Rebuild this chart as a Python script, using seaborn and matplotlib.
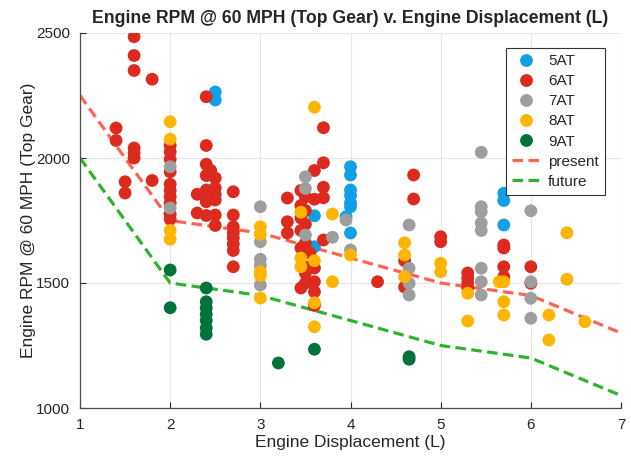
import numpy as np
import pandas as pd
import matplotlib
matplotlib.use('Agg')
import matplotlib.pyplot as plt
import seaborn as sns

# Engine displacement (L) and RPM at 60 mph, per transmission type
disp_5at = [2.5, 2.5, 3.6, 3.6, 4.0, 4.0, 4.0, 4.0, 4.0, 4.0, 3.95, 4.0, 5.7, 5.7, 5.7]
rpm_5at = [2264, 2232, 1769, 1645, 1965, 1932, 1872, 1850, 1820, 1805, 1765, 1700, 1859, 1830, 1732]

disp_6at = [1.4, 1.4, 1.5, 1.5, 1.6, 1.6, 1.6, 1.6, 1.6, 1.6, 1.8, 1.8,
            2.0, 2.0, 2.0, 2.0, 2.0, 2.0, 2.0, 2.0, 2.0, 2.0,
            2.4, 2.4, 2.4, 2.4, 2.5, 2.3, 2.4, 2.5, 2.4, 2.5, 2.3, 2.4, 2.5, 2.5, 2.45, 2.5,
            2.7, 2.7, 2.7, 2.7, 2.7, 2.7, 2.7, 2.7,
            3.3, 3.3, 3.3,
            3.7, 3.7, 3.6, 3.7, 3.7, 3.6, 3.7, 3.5, 3.5, 3.6, 3.6, 3.6, 3.6, 4.3,
            3.45, 3.5, 3.45, 3.5, 3.45, 3.5, 3.45, 3.5, 3.45, 3.55, 3.5, 3.45,
            4.7, 4.7, 4.6, 4.6, 5.0, 5.0, 5.3, 5.3, 5.3, 5.3,
            5.7, 5.7, 5.7, 5.7, 6.0, 6.0]
rpm_6at = [2120, 2070, 1905, 1860, 2485, 2410, 2350, 2040, 2020, 2000, 2315, 1910,
           2050, 2025, 1995, 1945, 1895, 1870, 1845, 1820, 1775, 1755,
           2245, 2050, 1975, 1930, 1920, 1855, 1872, 1880, 1825, 1832, 1780, 1770, 1772, 1730, 1950, 1855,
           1865, 1772, 1725, 1700, 1680, 1655, 1630, 1565,
           1840, 1745, 1700,
           2121, 1981, 1950, 1883, 1841, 1835, 1672, 1539, 1500, 1505, 1465, 1410, 1560, 1505,
           1870, 1845, 1810, 1790, 1760, 1735, 1710, 1660, 1640, 1620, 1565, 1480,
           1932, 1836, 1589, 1484, 1685, 1665, 1540, 1520, 1500, 1482,
           1652, 1640, 1565, 1525, 1565, 1499]

disp_7at = [2.0, 2.0, 3.0, 3.0, 3.0, 3.0, 3.0, 3.5, 3.5, 3.5, 3.8, 3.95, 4.0,
            4.65, 4.65, 4.65, 4.65, 5.45, 5.45, 5.45, 5.45, 5.45, 5.45, 5.45, 5.45,
            6.0, 6.0, 6.0, 6.0]
rpm_7at = [1965, 1800, 1805, 1665, 1595, 1570, 1492, 1925, 1878, 1692, 1683, 1752, 1632,
           1732, 1559, 1499, 1452, 2023, 1805, 1785, 1740, 1710, 1559, 1505, 1452,
           1789, 1505, 1439, 1359]

disp_8at = [2.0, 2.0, 2.0, 2.0, 3.0, 3.0, 3.0, 3.0, 3.0, 3.6, 3.45, 3.8, 3.45, 3.45,
            3.6, 3.6, 3.6, 3.8, 4.0, 4.6, 4.6, 4.6, 5.0, 5.0, 5.3, 5.3,
            5.65, 5.7, 5.7, 5.7, 6.2, 6.2, 6.4, 6.4, 6.6]
rpm_8at = [2145, 2075, 1710, 1675, 1725, 1695, 1545, 1530, 1440, 2203, 1783, 1776, 1600, 1565,
           1589, 1421, 1325, 1505, 1612, 1661, 1612, 1525, 1579, 1545, 1459, 1348,
           1505, 1505, 1425, 1372, 1372, 1272, 1701, 1515, 1345]

disp_9at = [2.0, 2.0, 2.4, 2.4, 2.4, 2.4, 2.4, 2.4, 2.4, 3.2, 3.6, 4.65, 4.65]
rpm_9at = [1552, 1401, 1480, 1425, 1400, 1375, 1350, 1320, 1295, 1180, 1235, 1205, 1195]

# trend lines
line_x = [1, 2, 3, 4, 5, 6, 7]
present_rpm = [2250, 1750, 1700, 1600, 1500, 1450, 1300]
future_rpm = [2000, 1500, 1450, 1350, 1250, 1200, 1050]

colors = {'5AT': '#0FA0E6', '6AT': '#DC2A1E', '7AT': '#9E9E9E',
          '8AT': '#FFB400', '9AT': '#00733C',
          'present': '#FF6450', 'future': '#2DB42D'}

# Build long-form tables
frames = []
for name, d, r in [('5AT', disp_5at, rpm_5at), ('6AT', disp_6at, rpm_6at),
                   ('7AT', disp_7at, rpm_7at), ('8AT', disp_8at, rpm_8at),
                   ('9AT', disp_9at, rpm_9at)]:
    frames.append(pd.DataFrame({'disp': d, 'rpm': r, 'trans': name}))
pts = pd.concat(frames, ignore_index=True)

lines = pd.concat([pd.DataFrame({'disp': line_x, 'rpm': present_rpm, 'curve': 'present'}),
                   pd.DataFrame({'disp': line_x, 'rpm': future_rpm, 'curve': 'future'})],
                  ignore_index=True)

sns.set_style('whitegrid', {'grid.color': '#e6e6e6', 'axes.edgecolor': '#4d4d4d',
                            'xtick.bottom': True, 'ytick.left': True,
                            'xtick.direction': 'in', 'ytick.direction': 'in'})
plt.rcParams['font.family'] = ['Liberation Sans', 'DejaVu Sans']

fig = plt.figure(figsize=(6.31, 4.62), dpi=100)
ax = fig.add_axes([80 / 631, 1 - 408 / 462, 541 / 631, 375 / 462])

sns.lineplot(data=lines, x='disp', y='rpm', hue='curve', style='curve',
             palette=colors, dashes={'present': (3.3, 1.7), 'future': (3.3, 1.7)},
             linewidth=2.3, sort=False, ax=ax, zorder=2)
sns.scatterplot(data=pts, x='disp', y='rpm', hue='trans', palette=colors,
                s=85, linewidth=0, alpha=1, ax=ax, zorder=3)

ax.set_xlim(1, 7)
ax.set_ylim(1000, 2500)
ax.set_xticks([1, 2, 3, 4, 5, 6, 7])
ax.set_yticks([1000, 1500, 2000, 2500])
ax.tick_params(axis='both', labelsize=11, colors='#262626', length=4, width=0.8,
               direction='in', pad=7)
for side in ['top', 'right']:
    ax.spines[side].set_visible(False)
for side in ['left', 'bottom']:
    ax.spines[side].set_linewidth(0.9)

ax.set_xlabel('Engine Displacement (L)', fontsize=12.5, color='#262626', labelpad=2)
ax.set_ylabel('Engine RPM @ 60 MPH (Top Gear)', fontsize=12.5, color='#262626', labelpad=0)
ax.set_title('Engine RPM @ 60 MPH (Top Gear) v. Engine Displacement (L)',
             fontsize=12.7, fontweight='bold', pad=7)

handles, labels = ax.get_legend_handles_labels()
order = ['5AT', '6AT', '7AT', '8AT', '9AT', 'present', 'future']
hmap = dict(zip(labels, handles))
leg = ax.legend([hmap[k] for k in order], order, loc='upper right',
                bbox_to_anchor=(0.970, 0.960), borderaxespad=0, fontsize=11,
                frameon=True, fancybox=False, framealpha=1, edgecolor='#333333',
                handlelength=1.85, handletextpad=0.5, labelspacing=0.4, borderpad=0.4)
leg.get_frame().set_linewidth(0.8)

fig.savefig('out.png', dpi=100)
